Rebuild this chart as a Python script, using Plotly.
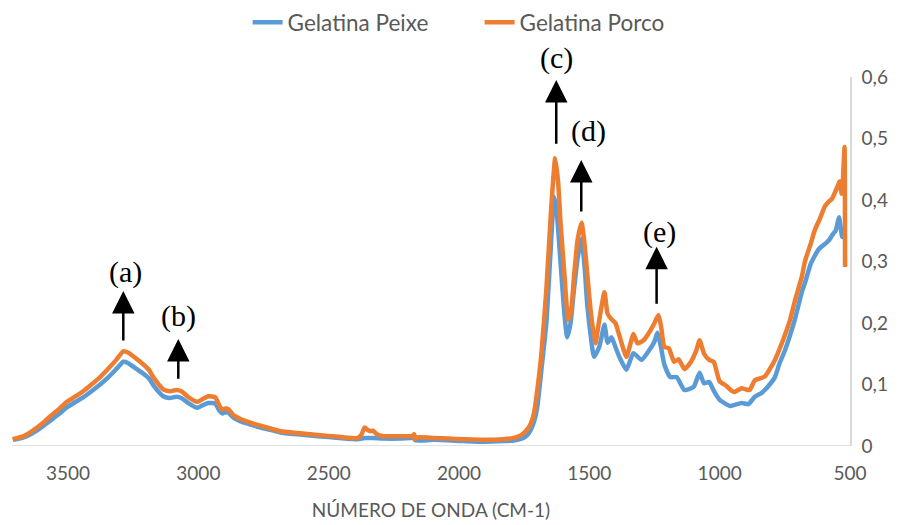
import plotly.graph_objects as go

# FTIR spectra of fish and pork gelatin (absorbance vs wavenumber)
wn_porco = [3712, 3670, 3635, 3600, 3569, 3535, 3504, 3470, 3442, 3410, 3377, 3345, 3315, 3288,
            3270, 3250, 3212, 3190, 3173, 3150, 3135, 3110, 3085, 3065, 3040, 3004, 2985, 2962,
            2935, 2920, 2908, 2896, 2885, 2865, 2838, 2800, 2762, 2720, 2685, 2620, 2542, 2460,
            2389, 2375, 2362, 2350, 2340, 2330, 2315, 2290, 2223, 2180, 2172, 2168, 2160, 2096,
            2040, 1981, 1904, 1830, 1790, 1760, 1740, 1725, 1712, 1700, 1685, 1665, 1646, 1631,
            1620, 1610, 1596, 1581, 1570, 1558, 1545, 1530, 1520, 1508, 1495, 1477, 1462, 1442,
            1430, 1415, 1400, 1385, 1358, 1340, 1331, 1315, 1292, 1270, 1250, 1235, 1225, 1212,
            1195, 1175, 1158, 1135, 1110, 1090, 1077, 1060, 1040, 1023, 1000, 975, 955, 942,
            915, 900, 885, 865, 845, 827, 808, 788, 770, 750, 730, 712, 685, 673, 650, 635,
            615, 596, 580, 569, 555, 545, 540, 532, 528, 521, 519]
abs_porco = [0.011, 0.016, 0.025, 0.036, 0.048, 0.060, 0.072, 0.081, 0.089, 0.100, 0.112, 0.126, 0.140, 0.154,
             0.152, 0.146, 0.133, 0.124, 0.112, 0.099, 0.092, 0.089, 0.091, 0.089, 0.080, 0.072, 0.076, 0.081,
             0.079, 0.066, 0.059, 0.061, 0.060, 0.050, 0.044, 0.038, 0.033, 0.028, 0.024, 0.021, 0.018, 0.015,
             0.013, 0.018, 0.030, 0.026, 0.024, 0.025, 0.019, 0.016, 0.016, 0.016, 0.019, 0.011, 0.014, 0.013,
             0.012, 0.011, 0.010, 0.011, 0.013, 0.018, 0.026, 0.036, 0.054, 0.090, 0.145, 0.254, 0.389, 0.468,
             0.430, 0.360, 0.281, 0.205, 0.220, 0.280, 0.335, 0.363, 0.335, 0.280, 0.220, 0.167, 0.205, 0.250,
             0.215, 0.206, 0.200, 0.180, 0.145, 0.170, 0.182, 0.167, 0.172, 0.185, 0.200, 0.213, 0.195, 0.161,
             0.159, 0.137, 0.141, 0.125, 0.137, 0.155, 0.172, 0.150, 0.140, 0.137, 0.105, 0.098, 0.090, 0.088,
             0.094, 0.092, 0.091, 0.107, 0.110, 0.113, 0.125, 0.140, 0.158, 0.180, 0.205, 0.235, 0.275, 0.300,
             0.330, 0.351, 0.370, 0.390, 0.398, 0.402, 0.415, 0.425, 0.430, 0.410, 0.425, 0.486, 0.291]

wn_peixe = [3712, 3670, 3635, 3600, 3569, 3535, 3504, 3470, 3442, 3410, 3377, 3345, 3315, 3288,
            3270, 3250, 3212, 3190, 3173, 3150, 3135, 3110, 3085, 3065, 3040, 3004, 2985, 2962,
            2935, 2920, 2908, 2896, 2885, 2865, 2838, 2800, 2762, 2720, 2685, 2620, 2542, 2460,
            2389, 2362, 2330, 2290, 2223, 2172, 2168, 2096, 1981, 1904, 1830, 1790, 1760, 1740,
            1725, 1712, 1700, 1685, 1665, 1650, 1635, 1625, 1612, 1596, 1585, 1572, 1560, 1545,
            1530, 1518, 1508, 1495, 1482, 1462, 1442, 1430, 1415, 1400, 1385, 1358, 1331, 1300,
            1270, 1250, 1239, 1225, 1212, 1190, 1165, 1135, 1100, 1077, 1060, 1040, 1023, 1000,
            960, 942, 915, 890, 865, 840, 827, 808, 788, 770, 750, 730, 712, 685, 673, 650,
            620, 592, 580, 565, 555, 548, 542, 530, 524]
abs_peixe = [0.010, 0.014, 0.021, 0.031, 0.041, 0.052, 0.063, 0.072, 0.079, 0.089, 0.100, 0.112, 0.125, 0.137,
             0.135, 0.129, 0.118, 0.110, 0.099, 0.087, 0.081, 0.078, 0.080, 0.078, 0.070, 0.062, 0.066, 0.070,
             0.069, 0.058, 0.053, 0.055, 0.054, 0.046, 0.040, 0.035, 0.030, 0.026, 0.022, 0.019, 0.016, 0.013,
             0.011, 0.013, 0.013, 0.012, 0.012, 0.013, 0.009, 0.010, 0.008, 0.007, 0.008, 0.009, 0.012, 0.017,
             0.026, 0.040, 0.063, 0.120, 0.200, 0.307, 0.405, 0.380, 0.307, 0.216, 0.177, 0.200, 0.250, 0.305,
             0.337, 0.290, 0.230, 0.180, 0.145, 0.161, 0.197, 0.168, 0.177, 0.161, 0.145, 0.124, 0.151, 0.140,
             0.156, 0.170, 0.184, 0.160, 0.132, 0.112, 0.112, 0.091, 0.096, 0.119, 0.102, 0.104, 0.090, 0.075,
             0.065, 0.067, 0.070, 0.068, 0.080, 0.086, 0.091, 0.100, 0.112, 0.135, 0.155, 0.180, 0.205, 0.250,
             0.265, 0.297, 0.320, 0.330, 0.335, 0.345, 0.350, 0.362, 0.372, 0.340, 0.350]

y_ticks = [0, 0.1, 0.2, 0.3, 0.4, 0.5, 0.6]
y_tick_text = ["0", "0,1", "0,2", "0,3", "0,4", "0,5", "0,6"]
x_ticks = [3500, 3000, 2500, 2000, 1500, 1000, 500]

# band labels: (text, arrow x, arrow tail y, arrow tip y, label x, label y)
bands = [
    ("(a)", 3288, 0.169, 0.252, 3280, 0.283),
    ("(b)", 3077, 0.107, 0.174, 3077, 0.211),
    ("(c)", 1627, 0.489, 0.595, 1627, 0.631),
    ("(d)", 1531, 0.379, 0.465, 1504, 0.512),
    ("(e)", 1242, 0.229, 0.324, 1231, 0.348),
]
Y_MAX = 0.6

BLUE = "#5B9BD5"
ORANGE = "#ED7D31"
GREY = "#595959"
FONT = "Lato"

fig = go.Figure()
fig.add_trace(go.Scatter(x=wn_peixe, y=abs_peixe, mode="lines", name="Gelatina Peixe",
                         line=dict(color=BLUE, width=4.5, shape="spline", smoothing=0.5)))
fig.add_trace(go.Scatter(x=wn_porco, y=abs_porco, mode="lines", name="Gelatina Porco",
                         line=dict(color=ORANGE, width=4.5, shape="spline", smoothing=0.5)))

for text, ax_x, tail_y, tip_y, lx, ly in bands:
    fig.add_annotation(x=ax_x, y=tip_y, ax=ax_x, ay=tail_y, xref="x", yref="y",
                       axref="x", ayref="y", text="", showarrow=True,
                       arrowhead=2, arrowsize=1.8, arrowwidth=2.5, arrowcolor="black")
    # labels may sit above the axis range, so place them in paper height units
    fig.add_annotation(x=lx, y=ly / Y_MAX, xref="x", yref="paper", text=text, showarrow=False,
                       xanchor="center", yanchor="middle",
                       font=dict(family="Liberation Serif", size=30, color="black"))

fig.update_layout(
    width=907, height=525,
    margin=dict(l=12, r=57, t=77, b=79),
    paper_bgcolor="white", plot_bgcolor="white",
    font=dict(family=FONT, size=19, color=GREY),
    showlegend=True,
    legend=dict(orientation="h", xref="container", yref="container",
                x=0.273, y=0.957, xanchor="left", yanchor="middle",
                font=dict(family=FONT, size=22.5, color=GREY),
                entrywidth=187, entrywidthmode="pixels"),
    xaxis=dict(range=[3715, 500], tickvals=x_ticks, showgrid=False, zeroline=False,
               showline=False, ticks="", ticklabelstandoff=14, automargin=False,
               title=dict(text="NÚMERO DE ONDA (CM-1)", font=dict(family=FONT, size=19, color=GREY),
                          standoff=20)),
    yaxis=dict(range=[0, Y_MAX], side="right", tickvals=y_ticks, ticktext=y_tick_text,
               showgrid=False, zeroline=False, showline=True, linecolor="#D9D9D9",
               linewidth=1.5, ticks="", ticklabelstandoff=6, automargin=False),
)
# bottom axis line at zero absorbance
fig.add_shape(type="line", xref="paper", yref="y", x0=0, x1=1, y0=0, y1=0,
              line=dict(color="#D9D9D9", width=1.5))

fig.write_html("out.html")
